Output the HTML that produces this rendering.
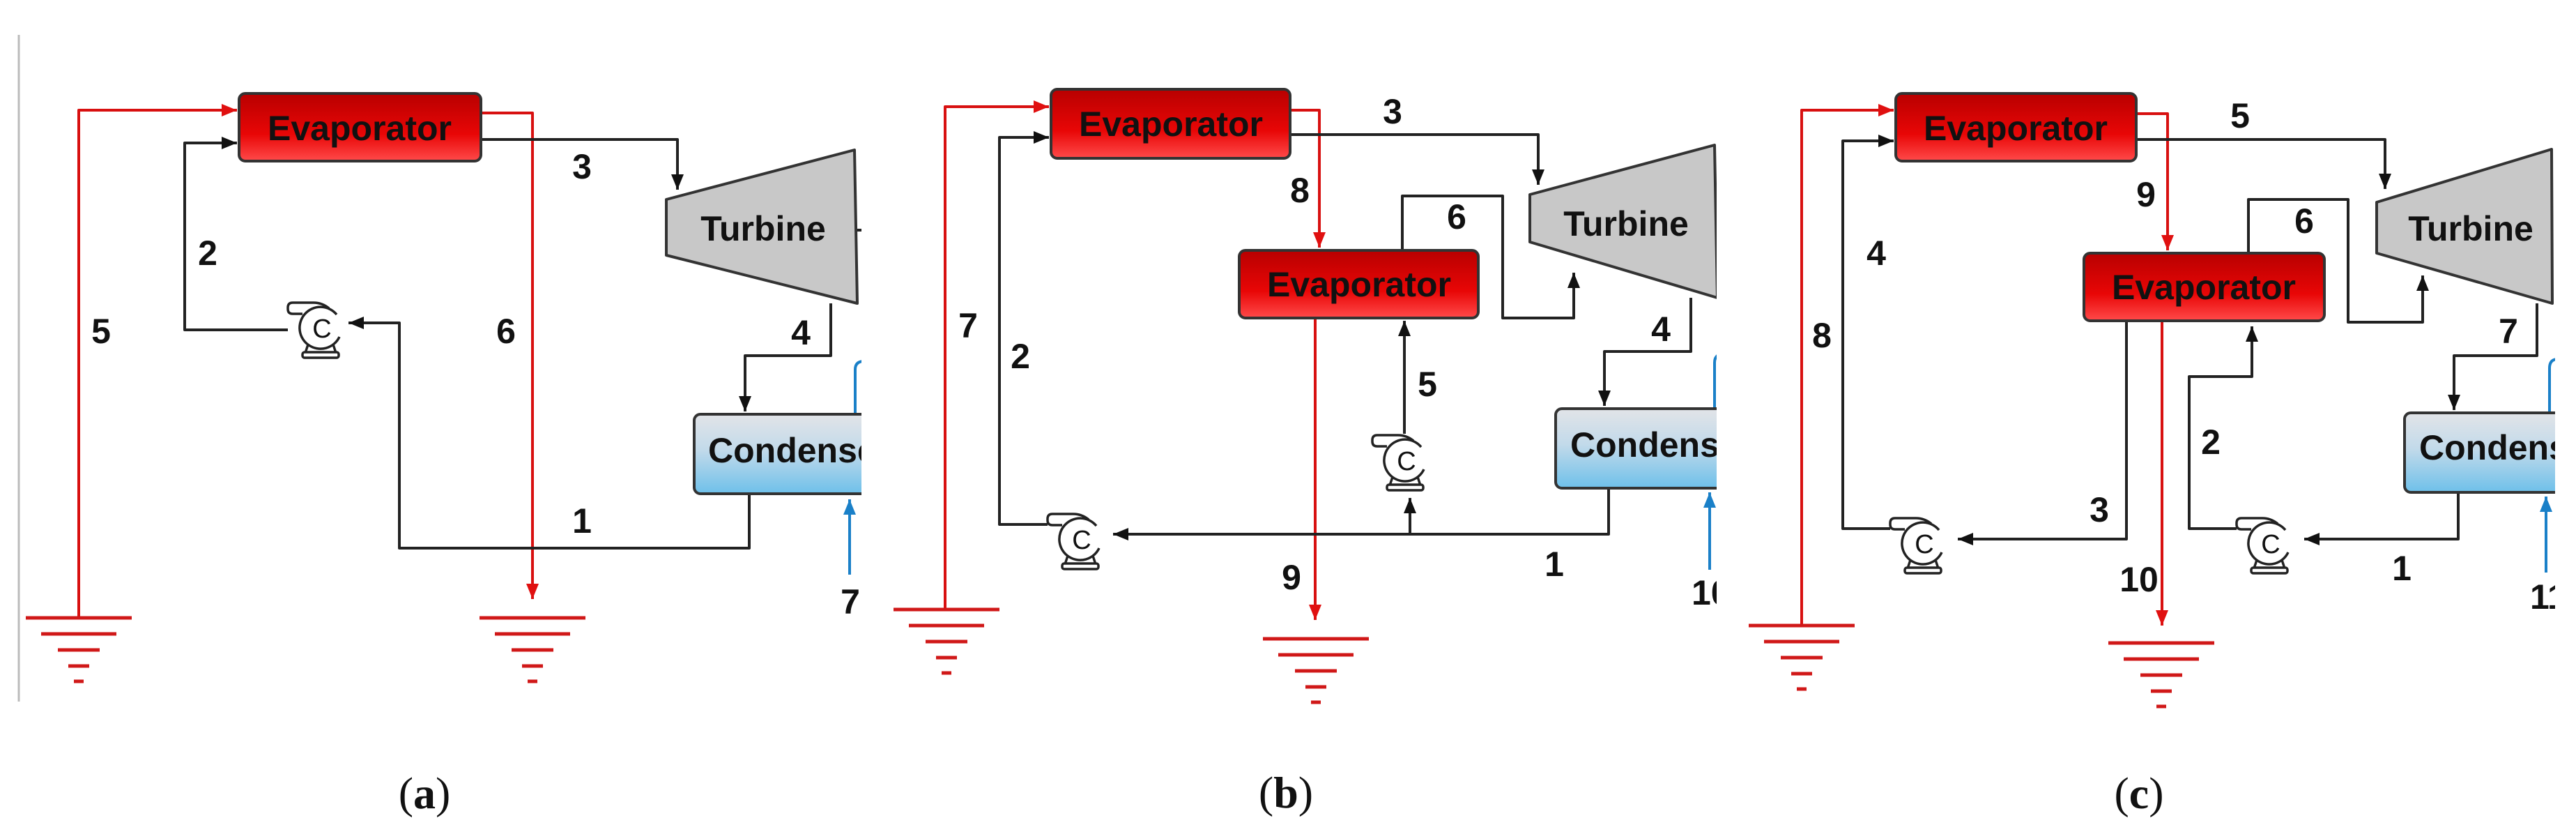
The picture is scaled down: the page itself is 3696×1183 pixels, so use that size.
<!DOCTYPE html>
<html><head><meta charset="utf-8"><style>
html,body{margin:0;padding:0;background:#fff;}
svg{display:block;}
text{font-family:"Liberation Sans",sans-serif;font-weight:bold;fill:#111;}
.lbl{font-size:50px;text-anchor:middle;dominant-baseline:central;}
.pc{font-size:38px;font-weight:normal;text-anchor:middle;dominant-baseline:central;}
.cap{font-family:"Liberation Serif",serif;font-size:64px;font-weight:normal;text-anchor:middle;dominant-baseline:central;}
</style></head><body>
<svg width="3696" height="1183" viewBox="0 0 3696 1183" xmlns="http://www.w3.org/2000/svg">
<defs>
<linearGradient id="red" x1="0" y1="0" x2="0" y2="1"><stop offset="0" stop-color="#b80000"/><stop offset="0.6" stop-color="#e80606"/><stop offset="1" stop-color="#ff4a4a"/></linearGradient>
<linearGradient id="blue" x1="0" y1="0" x2="0" y2="1"><stop offset="0" stop-color="#e2e4e8"/><stop offset="0.45" stop-color="#c2daea"/><stop offset="1" stop-color="#6ec0ea"/></linearGradient>
<marker id="ak" markerWidth="22" markerHeight="18" refX="10" refY="5" orient="auto" markerUnits="userSpaceOnUse" viewBox="0 0 10 10" preserveAspectRatio="none"><path d="M0,0 L10,5 L0,10 z" fill="#111"/></marker>
<marker id="ar" markerWidth="22" markerHeight="18" refX="10" refY="5" orient="auto" markerUnits="userSpaceOnUse" viewBox="0 0 10 10" preserveAspectRatio="none"><path d="M0,0 L10,5 L0,10 z" fill="#e01010"/></marker>
<marker id="ab" markerWidth="22" markerHeight="18" refX="10" refY="5" orient="auto" markerUnits="userSpaceOnUse" viewBox="0 0 10 10" preserveAspectRatio="none"><path d="M0,0 L10,5 L0,10 z" fill="#1a80c8"/></marker>
<clipPath id="ca"><rect x="0" y="0" width="1236" height="1183"/></clipPath>
<clipPath id="cb"><rect x="1240" y="0" width="1223" height="1183"/></clipPath>
<clipPath id="cc"><rect x="2470" y="0" width="1196" height="1183"/></clipPath>
<g id="pump" stroke="#222" stroke-width="3.5">
<path d="M12,-28 Q2,-36 -10,-36 L-40,-36 Q-47,-36 -47,-29 L-47,-27 Q-47,-20 -40,-20 L-26,-20" fill="#fff"/>
<path d="M23,-19 A30,30 0 1,0 27,13" fill="#fff"/>
<path d="M-18,24 L-22,36 M18,24 L22,36" fill="none"/>
<rect x="-26" y="35" width="52" height="8" rx="3" fill="#fff"/>
</g>
<g id="gnd" stroke="#d01818" stroke-width="5">
<line x1="-76" y1="0" x2="76" y2="0"/><line x1="-54" y1="23" x2="54" y2="23"/><line x1="-30" y1="46" x2="30" y2="46"/><line x1="-15" y1="69" x2="15" y2="69"/><line x1="-7" y1="91" x2="7" y2="91"/>
</g>
</defs>

<!-- Panel A -->
<line x1="27" y1="50" x2="27" y2="1006" stroke="#bbb" stroke-width="3"/>
<g clip-path="url(#ca)" fill="none" stroke-width="4" stroke-linejoin="round">
<path d="M113,886 V158 H340" stroke="#d81010" marker-end="url(#ar)"/>
<path d="M690,162 H764 V859" stroke="#d81010" marker-end="url(#ar)"/>
<use href="#gnd" x="113" y="886"/><use href="#gnd" x="764" y="886"/>
<path d="M690,200 H972 V272" stroke="#222" marker-end="url(#ak)"/>
<path d="M1192,435 V510 H1069 V590" stroke="#222" marker-end="url(#ak)"/>
<path d="M1075,708 V786 H573 V463 H500" stroke="#222" marker-end="url(#ak)"/>
<path d="M413,473 H265 V205 H340" stroke="#222" marker-end="url(#ak)"/>
<path d="M1219,824 V716" stroke="#1a80c8" marker-end="url(#ab)"/>
<path d="M1227,594 V530 Q1227,518 1240,518" stroke="#1a80c8"/>
<rect x="343" y="134" width="347" height="97" rx="9" fill="url(#red)" stroke="#333"/>
<polygon points="956,286 1226,215 1230,435 956,366" fill="#c8c8c8" stroke="#333" stroke-linejoin="round"/>
<line x1="1230" y1="330" x2="1240" y2="330" stroke="#222"/>
<rect x="996" y="594" width="300" height="114" rx="9" fill="url(#blue)" stroke="#333"/>
<use href="#pump" x="460" y="470"/>
<text x="462" y="472" class="pc" stroke="none">C</text>
<text x="516" y="184" class="lbl" stroke="none">Evaporator</text>
<text x="1095" y="328" class="lbl" stroke="none">Turbine</text>
<text x="1016" y="646" style="font-size:50px;dominant-baseline:central" stroke="none">Condenser</text>
<text x="835" y="239" class="lbl" stroke="none">3</text>
<text x="298" y="363" class="lbl" stroke="none">2</text>
<text x="145" y="475" class="lbl" stroke="none">5</text>
<text x="726" y="475" class="lbl" stroke="none">6</text>
<text x="1149" y="477" class="lbl" stroke="none">4</text>
<text x="835" y="747" class="lbl" stroke="none">1</text>
<text x="1220" y="863" class="lbl" stroke="none">7</text>
</g>
<text x="609" y="1137" class="cap">(<tspan font-weight="bold">a</tspan>)</text>

<!-- Panel B -->
<g clip-path="url(#cb)" fill="none" stroke-width="4" stroke-linejoin="round">
<path d="M1356,874 V153 H1505" stroke="#d81010" marker-end="url(#ar)"/>
<path d="M1851,158 H1893 V355" stroke="#d81010" marker-end="url(#ar)"/>
<path d="M1887,456 V889" stroke="#d81010" marker-end="url(#ar)"/>
<use href="#gnd" x="1358" y="874"/><use href="#gnd" x="1888" y="916"/>
<path d="M1851,193 H2207 V265" stroke="#222" marker-end="url(#ak)"/>
<path d="M2012,359 V281 H2156 V456 H2258 V391" stroke="#222" marker-end="url(#ak)"/>
<path d="M2426,427 V504 H2302 V582" stroke="#222" marker-end="url(#ak)"/>
<path d="M2308,700 V766 H1597" stroke="#222" marker-end="url(#ak)"/>
<path d="M2023,766 V714" stroke="#222" marker-end="url(#ak)"/>
<path d="M2015,622 V460" stroke="#222" marker-end="url(#ak)"/>
<path d="M1503,752 H1434 V197 H1505" stroke="#222" marker-end="url(#ak)"/>
<path d="M2453,817 V706" stroke="#1a80c8" marker-end="url(#ab)"/>
<path d="M2460,586 V520 Q2460,508 2472,508" stroke="#1a80c8"/>
<rect x="1508" y="128" width="343" height="99" rx="9" fill="url(#red)" stroke="#333"/>
<rect x="1778" y="359" width="343" height="97" rx="9" fill="url(#red)" stroke="#333"/>
<polygon points="2195,279 2460,208 2464,427 2195,347" fill="#c8c8c8" stroke="#333"/>
<rect x="2232" y="586" width="300" height="114" rx="9" fill="url(#blue)" stroke="#333"/>
<use href="#pump" x="1550" y="773"/>
<use href="#pump" x="2016" y="660"/>
<text x="1552" y="775" class="pc" stroke="none">C</text>
<text x="2018" y="662" class="pc" stroke="none">C</text>
<text x="1680" y="178" class="lbl" stroke="none">Evaporator</text>
<text x="1950" y="408" class="lbl" stroke="none">Evaporator</text>
<text x="2333" y="321" class="lbl" stroke="none">Turbine</text>
<text x="2253" y="638" style="font-size:50px;dominant-baseline:central" stroke="none">Condenser</text>
<text x="1998" y="160" class="lbl" stroke="none">3</text>
<text x="1865" y="273" class="lbl" stroke="none">8</text>
<text x="2090" y="311" class="lbl" stroke="none">6</text>
<text x="1389" y="467" class="lbl" stroke="none">7</text>
<text x="1464" y="511" class="lbl" stroke="none">2</text>
<text x="2048" y="551" class="lbl" stroke="none">5</text>
<text x="2383" y="472" class="lbl" stroke="none">4</text>
<text x="1853" y="828" class="lbl" stroke="none">9</text>
<text x="2230" y="809" class="lbl" stroke="none">1</text>
<text x="2427" y="850" style="font-size:50px;dominant-baseline:central" stroke="none">10</text>
</g>
<text x="1845" y="1136" class="cap">(<tspan font-weight="bold">b</tspan>)</text>

<!-- Panel C -->
<g clip-path="url(#cc)" fill="none" stroke-width="4" stroke-linejoin="round">
<path d="M2585,897 V158 H2717" stroke="#d81010" marker-end="url(#ar)"/>
<path d="M3065,163 H3110 V359" stroke="#d81010" marker-end="url(#ar)"/>
<path d="M3102,460 V897" stroke="#d81010" marker-end="url(#ar)"/>
<use href="#gnd" x="2585" y="897"/><use href="#gnd" x="3101" y="922"/>
<path d="M3065,200 H3422 V271" stroke="#222" marker-end="url(#ak)"/>
<path d="M3226,363 V286 H3369 V462 H3476 V395" stroke="#222" marker-end="url(#ak)"/>
<path d="M3640,435 V510 H3521 V588" stroke="#222" marker-end="url(#ak)"/>
<path d="M3527,706 V773 H3306" stroke="#222" marker-end="url(#ak)"/>
<path d="M3209,758 H3141 V540 H3231 V468" stroke="#222" marker-end="url(#ak)"/>
<path d="M3051,460 V773 H2809" stroke="#222" marker-end="url(#ak)"/>
<path d="M2712,758 H2644 V202 H2717" stroke="#222" marker-end="url(#ak)"/>
<path d="M3653,821 V712" stroke="#1a80c8" marker-end="url(#ab)"/>
<path d="M3658,592 V528 Q3658,515 3670,515" stroke="#1a80c8"/>
<rect x="2720" y="134" width="345" height="97" rx="9" fill="url(#red)" stroke="#333"/>
<rect x="2990" y="363" width="345" height="97" rx="9" fill="url(#red)" stroke="#333"/>
<polygon points="3410,290 3661,214 3662,435 3410,363" fill="#c8c8c8" stroke="#333"/>
<rect x="3450" y="592" width="300" height="114" rx="9" fill="url(#blue)" stroke="#333"/>
<use href="#pump" x="2759" y="779"/>
<use href="#pump" x="3256" y="779"/>
<text x="2761" y="781" class="pc" stroke="none">C</text>
<text x="3258" y="781" class="pc" stroke="none">C</text>
<text x="2892" y="184" class="lbl" stroke="none">Evaporator</text>
<text x="3162" y="412" class="lbl" stroke="none">Evaporator</text>
<text x="3545" y="328" class="lbl" stroke="none">Turbine</text>
<text x="3471" y="642" style="font-size:50px;dominant-baseline:central" stroke="none">Condenser</text>
<text x="3214" y="166" class="lbl" stroke="none">5</text>
<text x="3079" y="279" class="lbl" stroke="none">9</text>
<text x="3306" y="317" class="lbl" stroke="none">6</text>
<text x="2692" y="363" class="lbl" stroke="none">4</text>
<text x="2614" y="481" class="lbl" stroke="none">8</text>
<text x="3599" y="475" class="lbl" stroke="none">7</text>
<text x="3172" y="634" class="lbl" stroke="none">2</text>
<text x="3012" y="731" class="lbl" stroke="none">3</text>
<text x="3069" y="831" class="lbl" stroke="none">10</text>
<text x="3446" y="815" class="lbl" stroke="none">1</text>
<text x="3630" y="856" style="font-size:50px;dominant-baseline:central" stroke="none">11</text>
</g>
<text x="3069" y="1137" class="cap">(<tspan font-weight="bold">c</tspan>)</text>
</svg>
</body></html>
